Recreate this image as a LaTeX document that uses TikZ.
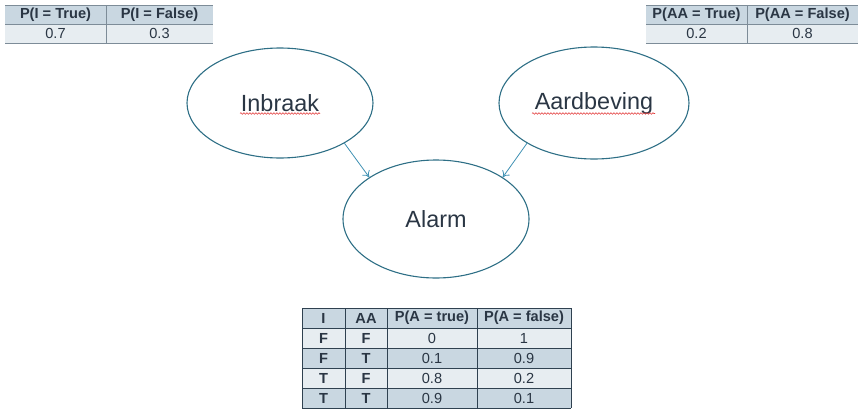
\documentclass[tikz,border=0pt]{standalone}
\usepackage{fontspec}
\setmainfont{Liberation Sans}
\usetikzlibrary{shapes.geometric,arrows.meta,decorations.pathmorphing}
\definecolor{edge}{HTML}{2E6F86}
\definecolor{arrowc}{HTML}{3F91B3}
\definecolor{ink}{HTML}{2A3644}
\definecolor{head}{HTML}{C9D7E1}
\definecolor{light}{HTML}{E7EDF1}
\definecolor{grid}{HTML}{2F4150}
\definecolor{softgrid}{HTML}{7D8C98}
\definecolor{squig}{HTML}{E23A3A}

\begin{document}
\begin{tikzpicture}[x=1pt,y=-1pt,
    var/.style={draw=edge,ellipse,line width=1.1pt,text=ink,inner sep=0pt,font=\fontsize{23.4}{28}\selectfont},
    hdr/.style={text=ink,font=\fontsize{14.6}{16}\selectfont\bfseries},
    val/.style={text=ink,font=\fontsize{14.6}{16}\selectfont}]
        \useasboundingbox (0,0) rectangle (864,415);
        % network
        \node[var,minimum width=186,minimum height=110] (inbraak) at (280,103) {Inbraak};
        \node[var,minimum width=190,minimum height=112] (aardbeving) at (594,103) {Aardbeving};
        \node[var,minimum width=186,minimum height=118] (alarm) at (436,219) {Alarm};
        \draw[arrowc,line width=.8pt,-{To[length=6pt,width=9pt]}] (inbraak.-32) -- (alarm.148);
        \draw[arrowc,line width=.8pt,-{To[length=6pt,width=9pt]}] (aardbeving.-149) -- (alarm.32);
        \draw[squig,line width=.6pt,decorate,decoration={snake,amplitude=.8pt,segment length=3pt}] (240,113.5) -- (320,113.5);
        \draw[squig,line width=.6pt,decorate,decoration={snake,amplitude=.8pt,segment length=3pt}] (532,113.5) -- (655,113.5);
        % prior table I
        \fill[head] (5,5) rectangle (213,24);
        \fill[light] (5,24) rectangle (213,43);
        \draw[softgrid,line width=.8pt] (5,5) -- (213,5) (5,24) -- (213,24) (5,43) -- (213,43) (106,5) -- (106,43);
        \node[hdr] (pit) at (55.5,14.5) {P(I = True)};
        \node[hdr] (pif) at (159.5,14.5) {P(I = False)};
        \node[val] (vit) at (55.5,33.5) {0.7};
        \node[val] (vif) at (159.5,33.5) {0.3};
        % prior table AA
        \fill[head] (646,5) rectangle (858,24);
        \fill[light] (646,24) rectangle (858,43);
        \draw[softgrid,line width=.8pt] (646,5) -- (858,5) (646,24) -- (858,24) (646,43) -- (858,43) (747,5) -- (747,43);
        \node[hdr] (paat) at (696.5,14.5) {P(AA = True)};
        \node[hdr] (paaf) at (802.5,14.5) {P(AA = False)};
        \node[val] (vaat) at (696.5,33.5) {0.2};
        \node[val] (vaaf) at (802.5,33.5) {0.8};
        % conditional table A
        \fill[head] (302,308) rectangle (571,328);
        \node[hdr] (ci) at (323.5,318) {I};
        \node[hdr] (caa) at (366,318) {AA};
        \node[hdr] (cat) at (432,318) {P(A = true)};
        \node[hdr] (caf) at (524,318) {P(A = false)};
        \foreach \i/\aa/\t/\f [count=\r] in {F/F/0/1,F/T/0.1/0.9,T/F/0.8/0.2,T/T/0.9/0.1}{
          \ifodd\r \fill[light] (302,{308+20*\r}) rectangle (571,{328+20*\r});
          \else \fill[head] (302,{308+20*\r}) rectangle (571,{328+20*\r}); \fi
          \node[hdr] (cpt-\r-i) at (323.5,{318+20*\r}) {\i};
          \node[hdr] (cpt-\r-aa) at (366,{318+20*\r}) {\aa};
          \node[val] (cpt-\r-t) at (432,{318+20*\r}) {\t};
          \node[val] (cpt-\r-f) at (524,{318+20*\r}) {\f};
        }
        \foreach \y in {308,328,348,368,388,408}{\draw[grid,line width=.9pt] (302,\y) -- (571,\y);}
        \foreach \x in {302,345,387,477,571}{\draw[grid,line width=.9pt] (\x,308) -- (\x,408);}
      \end{tikzpicture}
\end{document}
